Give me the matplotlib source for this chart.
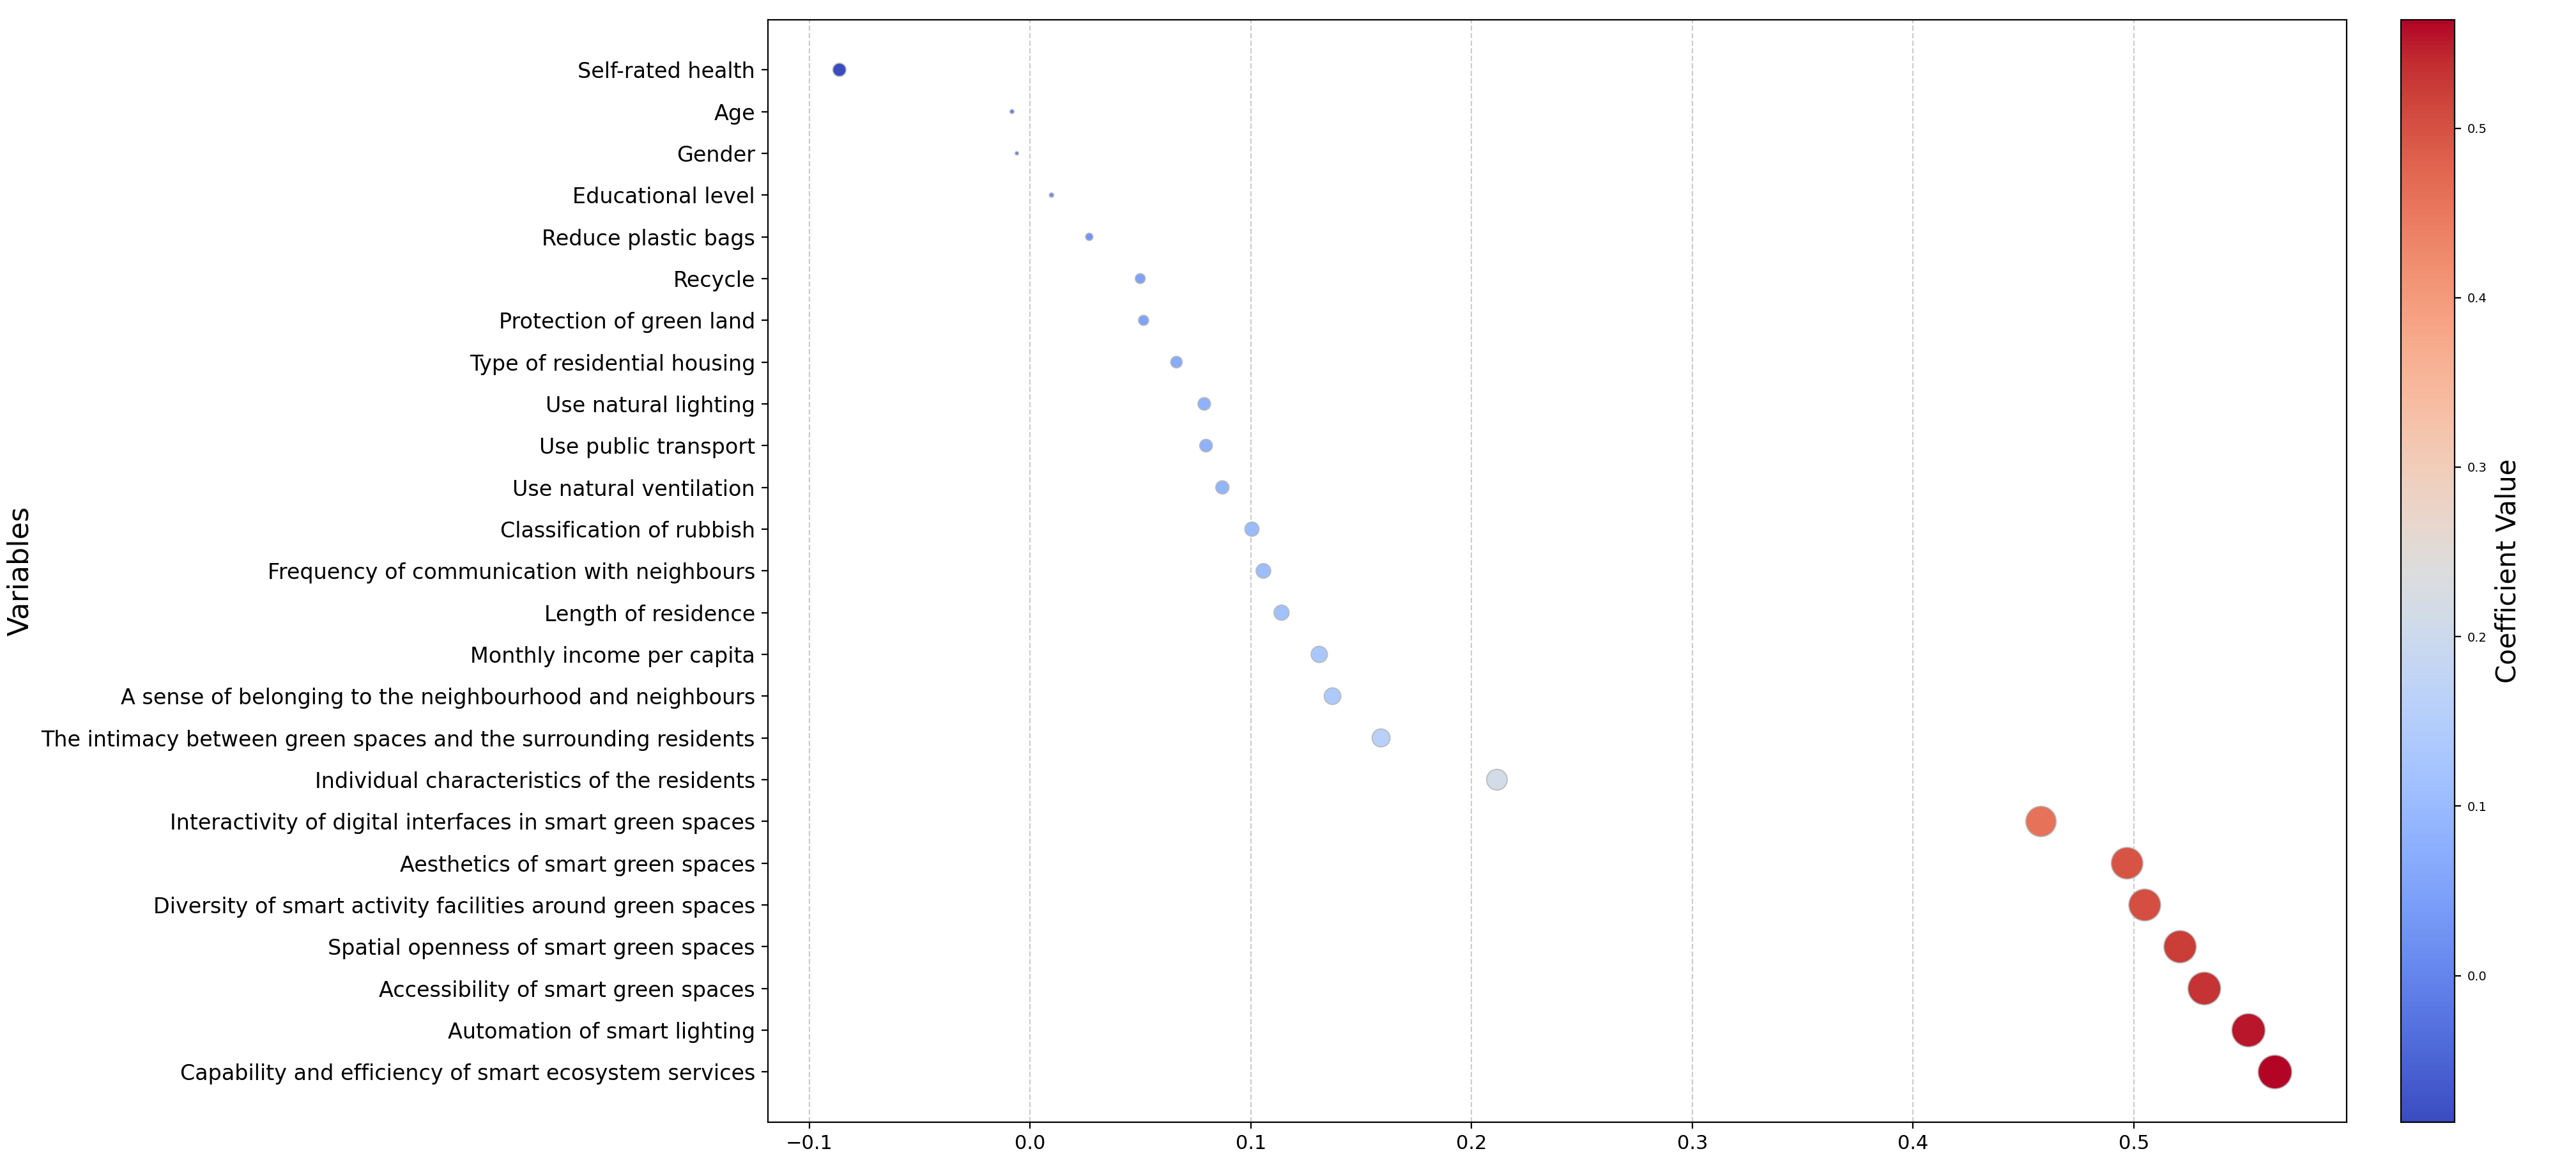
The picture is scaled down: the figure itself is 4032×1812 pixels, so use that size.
import matplotlib
matplotlib.use("Agg")
import matplotlib.pyplot as plt
import numpy as np

# variables, top to bottom
variables = [
    "Self-rated health",
    "Age",
    "Gender",
    "Educational level",
    "Reduce plastic bags",
    "Recycle",
    "Protection of green land",
    "Type of residential housing",
    "Use natural lighting",
    "Use public transport",
    "Use natural ventilation",
    "Classification of rubbish",
    "Frequency of communication with neighbours",
    "Length of residence",
    "Monthly income per capita",
    "A sense of belonging to the neighbourhood and neighbours",
    "The intimacy between green spaces and the surrounding residents",
    "Individual characteristics of the residents",
    "Interactivity of digital interfaces in smart green spaces",
    "Aesthetics of smart green spaces",
    "Diversity of smart activity facilities around green spaces",
    "Spatial openness of smart green spaces",
    "Accessibility of smart green spaces",
    "Automation of smart lighting",
    "Capability and efficiency of smart ecosystem services",
]

# coefficients
coefficients = [
    -0.0864, -0.0082, -0.0060, 0.0097, 0.0268, 0.0499, 0.0514, 0.0663,
    0.0789, 0.0797, 0.0871, 0.1005, 0.1057, 0.1139, 0.1310, 0.1370,
    0.1590, 0.2115, 0.4580, 0.4970, 0.5050, 0.5210, 0.5320, 0.5520, 0.5640,
]

coef = np.array(coefficients)
ypos = np.arange(len(variables))

fig = plt.figure(figsize=(20.16, 9.06), dpi=200)
ax = fig.add_axes([0.298, 0.031, 0.613, 0.952])
cax = fig.add_axes([0.932, 0.031, 0.021, 0.952])

# marker area scales with the absolute coefficient
sc = ax.scatter(coef, ypos, c=coef, cmap="coolwarm", s=np.abs(coef) * 640,
                edgecolors="#b8b8b8", linewidths=0.6, zorder=3)

ax.set_yticks(ypos)
ax.set_yticklabels(variables, fontsize=12)
ax.invert_yaxis()
ax.tick_params(axis="x", labelsize=11)
ax.set_ylabel("Variables", fontsize=16)
ax.grid(axis="x", linestyle="--", color="#cccccc", linewidth=0.8)

cb = fig.colorbar(sc, cax=cax)
cb.set_label("Coefficient Value", fontsize=15)
cb.ax.tick_params(labelsize=7)

fig.savefig("out.png", dpi=200)
